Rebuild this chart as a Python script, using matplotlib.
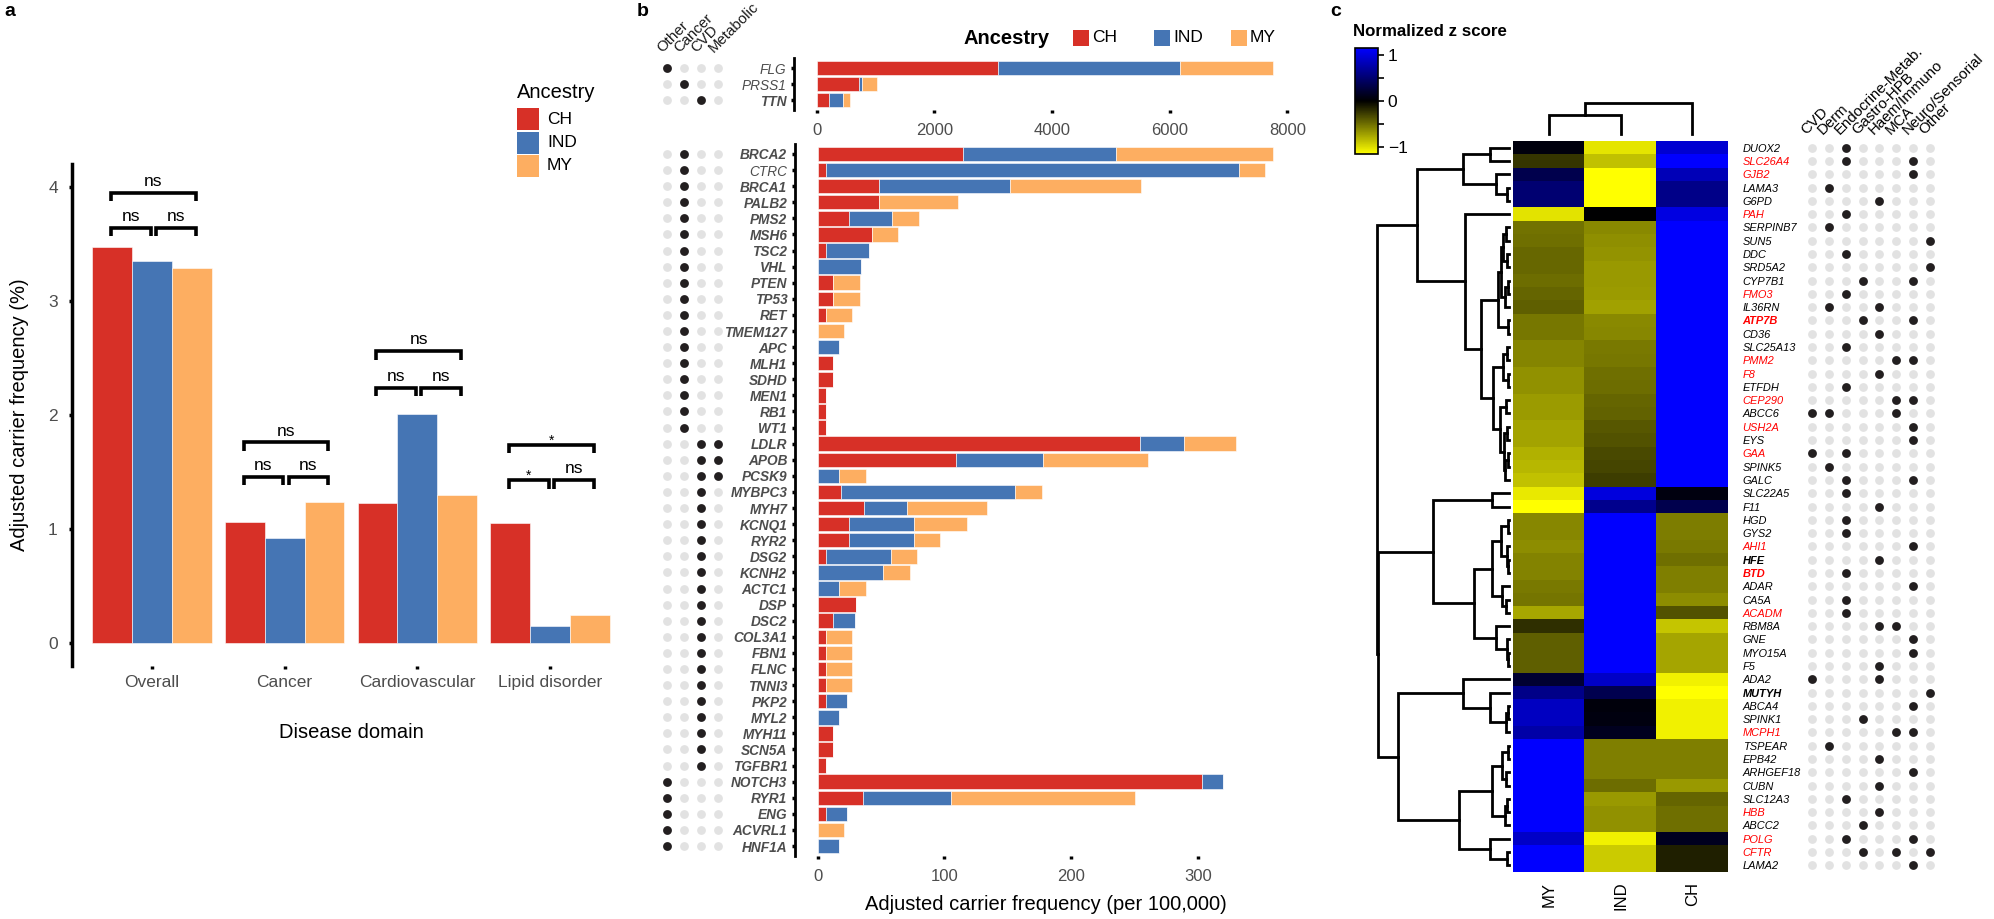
import numpy as np
import matplotlib
matplotlib.use('Agg')
import matplotlib.pyplot as plt
from matplotlib.colors import LinearSegmentedColormap
from matplotlib.patches import Rectangle

plt.rcParams['font.family'] = ['Liberation Sans', 'DejaVu Sans']

W, H = 1994, 919

# ---------------- panel a data ----------------
domains = ['Overall', 'Cancer', 'Cardiovascular', 'Lipid disorder']
ancestry = ['CH', 'IND', 'MY']
anc_colors = ['#D73027', '#4575B4', '#FDAE61']
freq_ch = [3.47, 1.065, 1.23, 1.05]
freq_ind = [3.35, 0.92, 2.01, 0.15]
freq_my = [3.29, 1.24, 1.30, 0.245]
sig_left = ['ns', 'ns', 'ns', '*']     # CH vs IND
sig_right = ['ns', 'ns', 'ns', 'ns']   # IND vs MY
sig_outer = ['ns', 'ns', 'ns', '*']    # CH vs MY
sig_pair_y = [3.64, 1.46, 2.24, 1.43]
sig_outer_y = [3.95, 1.76, 2.56, 1.74]

# ---------------- panel b data ----------------
domain_cols = ['Other', 'Cancer', 'CVD', 'Metabolic']
genes_top = ['FLG', 'PRSS1', 'TTN']
top_domain = ['Other', 'Cancer', 'CVD']
top_bold = [False, False, True]
top_ch = [3074, 715, 200]
top_ind = [3106, 50, 240]
top_my = [1580, 255, 130]

genes_bot = ['BRCA2', 'CTRC', 'BRCA1', 'PALB2', 'PMS2', 'MSH6', 'TSC2', 'VHL', 'PTEN', 'TP53',
             'RET', 'TMEM127', 'APC', 'MLH1', 'SDHD', 'MEN1', 'RB1', 'WT1',
             'LDLR', 'APOB', 'PCSK9',
             'MYBPC3', 'MYH7', 'KCNQ1', 'RYR2', 'DSG2', 'KCNH2', 'ACTC1', 'DSP', 'DSC2', 'COL3A1',
             'FBN1', 'FLNC', 'TNNI3', 'PKP2', 'MYL2', 'MYH11', 'SCN5A', 'TGFBR1',
             'NOTCH3', 'RYR1', 'ENG', 'ACVRL1', 'HNF1A']
bot_group = ['Cancer'] * 18 + ['CVD+Metabolic'] * 3 + ['CVD'] * 18 + ['Other'] * 5
bot_plain = ['CTRC']
bot_ch = [114.7, 6.1, 48.4, 48.4, 24.5, 42.4, 6.1, 0, 12.4, 12.4,
          6.2, 0, 0, 12.4, 12.4, 6.2, 6.2, 6.2,
          254.2, 108.9, 0,
          18.2, 36.1, 24.5, 24.5, 6.1, 0, 0, 30.5, 12.4, 6.2,
          6.2, 6.2, 6.2, 6.2, 0, 12.4, 12.4, 6.2,
          302.8, 35.8, 6.2, 0, 0]
bot_ind = [120.6, 326.2, 103.2, 0, 34.2, 0, 34.2, 34.5, 0, 0,
           0, 0, 17.1, 0, 0, 0, 0, 0,
           34.8, 69.0, 17.1,
           137.3, 34.4, 51.3, 51.3, 51.5, 51.3, 17.1, 0, 17.1, 0,
           0, 0, 0, 17.0, 17.1, 0, 0, 0,
           17.2, 69.2, 17.0, 0, 17.1]
bot_my = [124.1, 21.0, 103.7, 62.4, 20.8, 21.0, 0, 0, 20.8, 20.8,
          20.6, 20.8, 0, 0, 0, 0, 0, 0,
          41.0, 82.9, 20.8,
          21.1, 62.7, 41.6, 21.0, 20.8, 21.1, 20.8, 0, 0, 20.6,
          20.6, 20.6, 20.6, 0, 0, 0, 0, 0,
          0, 145.0, 0, 20.8, 0]

# ---------------- panel c data ----------------
genes_c = ['DUOX2', 'SLC26A4', 'GJB2', 'LAMA3', 'G6PD', 'PAH', 'SERPINB7', 'SUN5', 'DDC', 'SRD5A2',
           'CYP7B1', 'FMO3', 'IL36RN', 'ATP7B', 'CD36', 'SLC25A13', 'PMM2', 'F8', 'ETFDH', 'CEP290',
           'ABCC6', 'USH2A', 'EYS', 'GAA', 'SPINK5', 'GALC', 'SLC22A5', 'F11', 'HGD', 'GYS2',
           'AHI1', 'HFE', 'BTD', 'ADAR', 'CA5A', 'ACADM', 'RBM8A', 'GNE', 'MYO15A', 'F5',
           'ADA2', 'MUTYH', 'ABCA4', 'SPINK1', 'MCPH1', 'TSPEAR', 'EPB42', 'ARHGEF18', 'CUBN', 'SLC12A3',
           'HBB', 'ABCC2', 'POLG', 'CFTR', 'LAMA2']
red_genes = ['SLC26A4', 'GJB2', 'PAH', 'FMO3', 'ATP7B', 'PMM2', 'F8', 'CEP290', 'USH2A', 'GAA',
             'AHI1', 'BTD', 'ACADM', 'MCPH1', 'HBB', 'POLG', 'CFTR']
bold_genes = ['ATP7B', 'HFE', 'BTD', 'MUTYH']
heat_cols = ['MY', 'IND', 'CH']
z_my = [0.06, -0.24, 0.35, 0.51, 0.51, -1.03, -0.52, -0.50, -0.47, -0.47,
        -0.49, -0.46, -0.43, -0.54, -0.54, -0.60, -0.60, -0.66, -0.66, -0.70,
        -0.70, -0.74, -0.74, -0.80, -0.83, -0.87, -1.06, -1.155, -0.61, -0.61,
        -0.64, -0.59, -0.59, -0.55, -0.53, -0.76, -0.21, -0.43, -0.43, -0.43,
        0.22, 0.62, 0.87, 0.87, 0.76, 1.155, 1.155, 1.155, 1.155, 1.155,
        1.155, 1.155, 0.90, 1.155, 1.155]
z_ind = [-1.04, -0.87, -1.155, -1.155, -1.155, 0.0, -0.62, -0.65, -0.67, -0.69,
         -0.69, -0.70, -0.73, -0.62, -0.61, -0.55, -0.54, -0.50, -0.49, -0.46,
         -0.45, -0.39, -0.38, -0.33, -0.31, -0.28, 1.00, 0.64, 1.155, 1.155,
         1.155, 1.155, 1.155, 1.155, 1.155, 1.155, 1.155, 1.155, 1.155, 1.155,
         0.90, 0.36, 0.05, 0.07, 0.14, -0.58, -0.58, -0.58, -0.49, -0.69,
         -0.66, -0.66, -1.09, -0.92, -0.92]
z_ch = [0.95, 1.155, 0.83, 0.62, 0.62, 1.02, 1.155, 1.155, 1.155, 1.155,
        1.155, 1.155, 1.155, 1.155, 1.155, 1.155, 1.155, 1.155, 1.155, 1.155,
        1.155, 1.155, 1.155, 1.155, 1.155, 1.155, 0.07, 0.35, -0.57, -0.57,
        -0.55, -0.50, -0.58, -0.58, -0.64, -0.38, -0.89, -0.75, -0.75, -0.75,
        -1.09, -1.155, -1.09, -1.09, -1.09, -0.58, -0.58, -0.58, -0.69, -0.46,
        -0.50, -0.50, 0.14, -0.14, -0.14]
disease_cats = ['CVD', 'Derm', 'Endocrine-Metab.', 'Gastro-HPB', 'Haem/Immuno', 'MCA', 'Neuro/Sensorial', 'Other']
gene_cats = [[2], [2, 6], [6], [1], [4], [2], [1], [7], [2], [7],
             [3, 6], [2], [1, 4], [3, 6], [4], [2], [5, 6], [4], [2], [5, 6],
             [0, 1, 5], [6], [6], [0, 2], [1], [2, 6], [2], [4], [2], [2],
             [6], [4], [2], [6], [2], [2], [4, 5], [6], [6], [4],
             [0, 4], [7], [6], [3], [5, 6], [1], [4], [6], [4], [2],
             [4], [3], [2, 6], [3, 5, 7], [6]]

# row dendrogram: (left, right, merge height); leaves are row indices
tree_a = ((0, 1, 19), (2, (3, 4, 2), 13), 46)
tree_b_top = ((((6, 7, 3), (8, 9, 2), 6), ((10, 11, 1.5), 12, 4), 8), (13, 14, 1.5), 10.7)
tree_b_bot = (((15, 16, 2), (17, 18, 1.5), 6.3),
              ((19, 20, 3), ((21, 22, 2), ((23, 24, 1.5), 25, 4), 5), 9), 16.3)
tree_b = (5, (tree_b_top, tree_b_bot, 28.3), 44)
tree_c = (26, 27, 17)
tree_d = ((((28, 29, 1), (30, (31, 32, 1), 2), 8.3), (33, (34, 35, 3), 7.3), 17.3),
          (36, (37, (38, 39, 1), 2), 13), 34.7)
tree_e = (40, (41, ((42, 43, 1), 44, 3), 19), 45.7)
tree_f = ((((45, 46, 1), (47, 48, 3), 7), ((49, 50, 2), 51, 4), 17.3), (52, (53, 54, 2), 19), 49.7)
row_tree = ((tree_a, tree_b, 92.3), ((tree_c, tree_d, 75.7), (tree_e, tree_f, 111.3), 131), 132)
col_tree = ((0, 1, 19), 2, 31)

DARK, LIGHT, GRAY_TXT = '#231F20', '#E2E2E2', '#4D4D4D'

fig = plt.figure(figsize=(W / 100, H / 100), dpi=100)


def add_ax(x0, y0, x1, y1):
    # axes placed in pixel coords (y from top)
    return fig.add_axes([x0 / W, 1 - y1 / H, (x1 - x0) / W, (y1 - y0) / H])


def fig_text(x, y, s, **kw):
    fig.text(x / W, 1 - y / H, s, **kw)


def fig_box(x, y, w, h, color):
    fig.patches.append(Rectangle((x / W, 1 - (y + h) / H), w / W, h / H,
                                 transform=fig.transFigure, facecolor=color, edgecolor='none'))


# ======================= panel a =======================
ax = add_ax(72.4, 164, 629.6, 666)
xa = np.arange(len(domains))
bw = 0.3
for k, vals in enumerate([freq_ch, freq_ind, freq_my]):
    ax.bar(xa + (k - 1) * bw, vals, width=bw, color=anc_colors[k], edgecolor='white', linewidth=0.4)
ax.set_xlim(-0.6, 3.6)
ax.set_ylim(-0.2, 4.2)
for s in ['top', 'right', 'bottom']:
    ax.spines[s].set_visible(False)
ax.spines['left'].set_linewidth(2.5)
ax.set_yticks([0, 1, 2, 3, 4])
ax.set_xticks(xa)
ax.set_xticklabels(domains)
ax.tick_params(length=2.5, width=2.5, labelcolor=GRAY_TXT, labelsize=12.5)
ax.tick_params(axis='y', pad=8)
ax.tick_params(axis='x', pad=4)
ax.set_ylabel('Adjusted carrier frequency (%)', fontsize=14.5, labelpad=14)
ax.set_xlabel('Disease domain', fontsize=14.5, labelpad=24)


def bracket(x0, x1, y, label, tip=0.075):
    ax.plot([x0, x0, x1, x1], [y - tip, y, y, y - tip], color='black', lw=2.6,
            solid_joinstyle='miter', solid_capstyle='butt')
    if label == '*':
        ax.text((x0 + x1) / 2, y + 0.0, label, ha='center', va='baseline', fontsize=10)
    else:
        ax.text((x0 + x1) / 2, y + 0.06, label, ha='center', va='baseline', fontsize=12.5)


for i in range(len(domains)):
    bracket(i - 0.31, i - 0.01, sig_pair_y[i], sig_left[i])
    bracket(i + 0.03, i + 0.33, sig_pair_y[i], sig_right[i])
    bracket(i - 0.31, i + 0.33, sig_outer_y[i], sig_outer[i])

fig_text(517, 92, 'Ancestry', fontsize=14.5, va='center', ha='left')
for k, name in enumerate(ancestry):
    yc = 119 + 23.5 * k
    fig_box(517, yc - 11, 22, 22, anc_colors[k])
    fig_text(547, yc, name, fontsize=12.5, va='center', ha='left')

fig_text(4, 12, 'a', fontsize=14, fontweight='bold', va='center')

# ======================= panel b =======================


def stacked(axb, ch, ind, my, genes, bold):
    n = len(genes)
    y = np.arange(n)
    left = np.zeros(n)
    for k, vals in enumerate([ch, ind, my]):
        vals = np.asarray(vals, dtype=float)
        axb.barh(y, vals, left=left, height=0.9, color=anc_colors[k], edgecolor='white', linewidth=0.4)
        left += vals
    axb.set_xlim(-0.05 * left.max(), 1.05 * left.max())
    axb.set_ylim(n - 0.4, -0.6)
    for s in ['top', 'right', 'bottom']:
        axb.spines[s].set_visible(False)
    axb.spines['left'].set_linewidth(2)
    axb.set_yticks(y)
    axb.set_yticklabels(genes)
    for lab, b in zip(axb.get_yticklabels(), bold):
        lab.set_fontstyle('italic')
        lab.set_fontweight('bold' if b else 'normal')
    axb.tick_params(length=2.5, width=2.5, labelcolor=GRAY_TXT)
    axb.tick_params(axis='y', pad=3, labelsize=9.8)
    axb.tick_params(axis='x', pad=7, labelsize=12)


def dotmatrix(axd, groups, n):
    for r in range(n):
        on = [c for c, name in enumerate(domain_cols) if name in groups[r].split('+')]
        axd.scatter(range(len(domain_cols)), [r] * len(domain_cols), s=40, color=LIGHT, lw=0)
        axd.scatter(on, [r] * len(on), s=40, color=DARK, lw=0)
    axd.set_xlim(-0.6, 3.6)
    axd.set_ylim(n - 0.4, -0.6)
    axd.axis('off')


axb1 = add_ax(794, 58.4, 1296, 109.6)
stacked(axb1, top_ch, top_ind, top_my, genes_top, top_bold)
axb1.set_xticks([0, 2000, 4000, 6000, 8000])
axd1 = add_ax(657, 58.4, 728.4, 109.6)
dotmatrix(axd1, top_domain, len(genes_top))
for c, name in enumerate(domain_cols):
    axd1.text(c - 0.15, -0.8, name, rotation=45, rotation_mode='anchor', ha='left', va='bottom',
              fontsize=10.8, color='#1A1A1A', clip_on=False)

axb2 = add_ax(795, 144.3, 1296, 855.7)
stacked(axb2, bot_ch, bot_ind, bot_my, genes_bot, [g not in bot_plain for g in genes_bot])
axb2.set_xticks([0, 100, 200, 300])
axb2.set_xlabel('Adjusted carrier frequency (per 100,000)', fontsize=14.5, labelpad=8)
axd2 = add_ax(657, 144.3, 728.4, 855.7)
dotmatrix(axd2, bot_group, len(genes_bot))

fig_text(963, 38, 'Ancestry', fontsize=14.5, fontweight='bold', va='center', ha='left')
for k, (name, xk) in enumerate(zip(ancestry, [1073, 1154, 1231])):
    fig_box(xk, 30, 16, 16, anc_colors[k])
    fig_text(xk + 19, 38, name, fontsize=12.5, va='center', ha='left')

fig_text(637, 12, 'b', fontsize=14, fontweight='bold', va='center')

# ======================= panel c =======================
Z = np.column_stack([z_my, z_ind, z_ch])
cmap = LinearSegmentedColormap.from_list('ykb', ['#FFFF00', '#000000', '#0000FF'])
n_c = len(genes_c)
zlim = 1.16

axh = add_ax(1513, 141, 1728, 872)
im = axh.imshow(Z, aspect='auto', cmap=cmap, vmin=-zlim, vmax=zlim, interpolation='nearest')
for s in axh.spines.values():
    s.set_visible(False)
axh.set_xticks(range(len(heat_cols)))
axh.set_xticklabels(heat_cols, rotation=90, fontsize=12)
axh.yaxis.tick_right()
axh.set_yticks(range(n_c))
axh.set_yticklabels(genes_c)
axh.tick_params(length=0)
axh.tick_params(axis='x', pad=7)
axh.tick_params(axis='y', pad=10.5, labelsize=7.9)
for lab, g in zip(axh.get_yticklabels(), genes_c):
    lab.set_fontstyle('italic')
    lab.set_color('#FF0000' if g in red_genes else 'black')
    lab.set_fontweight('bold' if g in bold_genes else 'normal')


def draw_tree(axt, node, vertical):
    if isinstance(node, int):
        return float(node), 0.0
    left, right, h = node
    p1, h1 = draw_tree(axt, left, vertical)
    p2, h2 = draw_tree(axt, right, vertical)
    if vertical:
        axt.plot([p1, p1, p2, p2], [h1, h, h, h2], color='black', lw=2, solid_joinstyle='miter')
    else:
        axt.plot([h1, h, h, h2], [p1, p1, p2, p2], color='black', lw=2, solid_joinstyle='miter')
    return (p1 + p2) / 2, h


axr = add_ax(1370, 141, 1512, 872)
draw_tree(axr, row_tree, vertical=False)
axr.set_xlim(139, -3)
axr.set_ylim(n_c - 0.5, -0.5)
axr.axis('off')

axc = add_ax(1513, 95, 1728, 141)
draw_tree(axc, col_tree, vertical=True)
axc.set_xlim(-0.5, 2.5)
axc.set_ylim(-7, 39)
axc.axis('off')

axdc = add_ax(1800, 141, 1942, 872)
for r in range(n_c):
    axdc.scatter(range(len(disease_cats)), [r] * len(disease_cats), s=40, color=LIGHT, lw=0)
    axdc.scatter(gene_cats[r], [r] * len(gene_cats[r]), s=40, color=DARK, lw=0)
axdc.set_xlim(-0.7, 7.7)
axdc.set_ylim(n_c - 0.5, -0.5)
axdc.axis('off')
for c, name in enumerate(disease_cats):
    axdc.text(c - 0.2, -0.8, name, rotation=45, rotation_mode='anchor', ha='left', va='bottom',
              fontsize=10.8, color='black', clip_on=False)

cax = add_ax(1355, 48, 1378, 154)
cb = fig.colorbar(im, cax=cax, ticks=[-1, 0, 1])
cb.ax.set_yticks([-0.5, 0.5], minor=True)
cb.outline.set_linewidth(1.2)
cax.tick_params(which='both', labelsize=12.5, length=4, width=1.2, pad=3)
fig_text(1353, 32, 'Normalized z score', fontsize=12.2, fontweight='bold', va='center', ha='left')
fig_text(1330, 12, 'c', fontsize=14, fontweight='bold', va='center')

fig.savefig('out.png', dpi=100)
